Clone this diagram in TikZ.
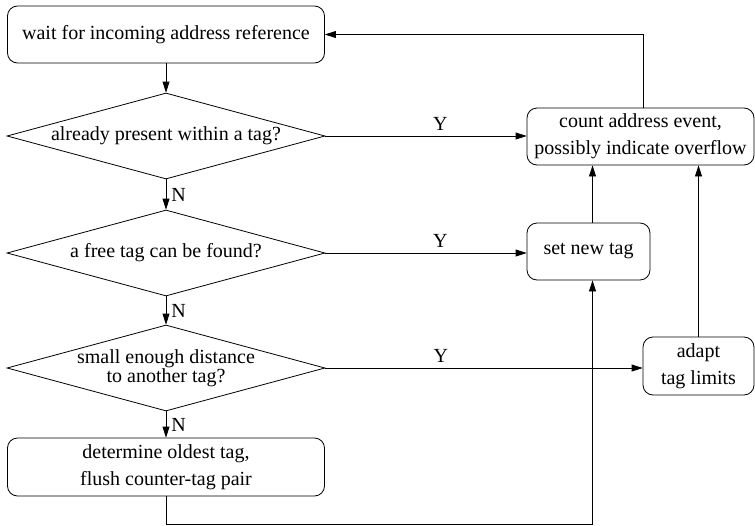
\documentclass[tikz,border=0pt]{standalone}
\usepackage{fontspec}
\setmainfont{Liberation Serif}
\usetikzlibrary{shapes.geometric,arrows.meta}

\begin{document}
\begin{tikzpicture}[x=1pt,y=-1pt,
  line width=0.8pt,
  >={Triangle[length=11pt,width=7pt]},
  txt/.style={font=\fontsize{20}{27}\selectfont, align=center, inner sep=0pt},
  procbox/.style={txt, draw, rounded corners=10pt},
  decision/.style={draw, diamond, inner sep=0pt, minimum width=318pt, minimum height=86pt},
  yes/.style={font=\fontsize{20}{24}\selectfont, above, inner sep=5pt},
  no/.style={font=\fontsize{20}{24}\selectfont, right, inner sep=5pt},
]
\useasboundingbox (0,0) rectangle (755,525);

% main column
\node[procbox, minimum width=317pt, minimum height=57pt] (wait) at (166,34.5)
  {wait for incoming address reference};
\node[decision] (d1) at (166,136) {};
\node[txt] (d1t) at (d1) {already present within a tag?};
\node[decision] (d2) at (166,253) {};
\node[txt] (d2t) at (d2) {a free tag can be found?};
\node[decision] (d3) at (166,368) {};
\node[txt, font=\fontsize{20}{18}\selectfont] (d3t) at (d3) {small enough distance\\to another tag?};
\node[procbox, minimum width=317pt, minimum height=58pt] (flush) at (166,467)
  {determine oldest tag,\\flush counter-tag pair};

% right-hand actions
\node[procbox, minimum width=227pt, minimum height=57pt] (count) at (640.5,136.5)
  {count address event,\\possibly indicate overflow};
\node[procbox, minimum width=123pt, minimum height=57pt] (setnew) at (588.5,251.5)
  {set new tag};
\node[procbox, minimum width=111pt, minimum height=58pt] (adapt) at (698.5,366)
  {adapt\\tag limits};

% vertical routing columns
\coordinate (colA) at (592.5,0);
\coordinate (colB) at (643,0);

% decision flow
\draw[->] (wait.south) -- (d1.north);
\draw[->] (d1.south) -- node[no] {N} (d2.north);
\draw[->] (d2.south) -- node[no] {N} (d3.north);
\draw[->] (d3.south) -- node[no] {N} (flush.north);

\draw[->] (d1.east) -- node[yes, pos=0.571] {Y} (d1.east -| count.west);
\draw[->] (d2.east) -- node[yes, pos=0.571] {Y} (d2.east -| setnew.west);
\draw[->] (d3.east) -- node[yes, pos=0.364] {Y} (d3.east -| adapt.west);

% back to counting and waiting
\draw[->] (setnew.north -| colA) -- (count.south -| colA);
\draw[->] (adapt.north) -- (adapt.north |- count.south);
\draw[->] (count.north -| colB) |- (wait.east);
\draw[->] (flush.south) -- ++(0,28) -| (setnew.south -| colA);
\end{tikzpicture}
\end{document}
